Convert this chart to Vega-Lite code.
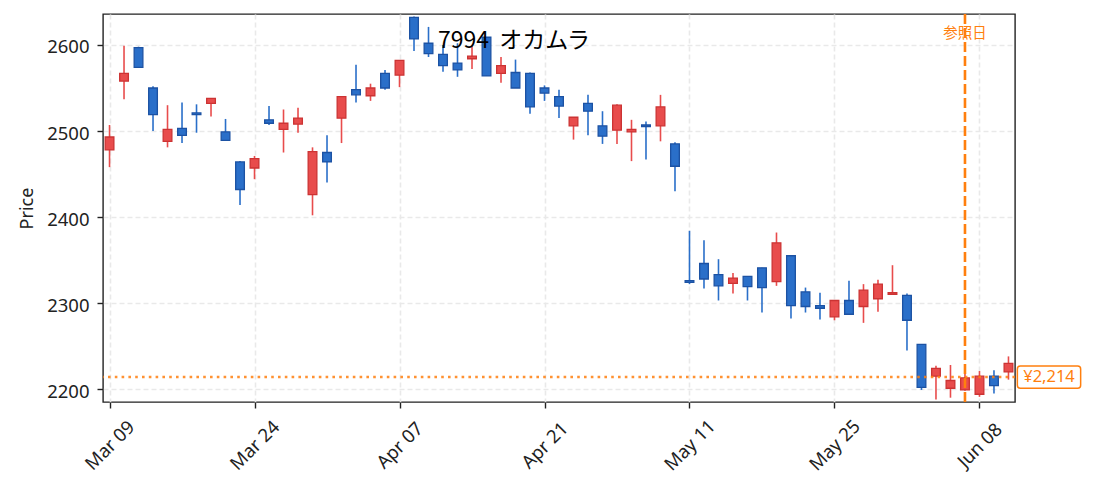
{
  "$schema": "https://vega.github.io/schema/vega-lite/v6.json",
  "width": 912,
  "height": 388,
  "autosize": {"type": "none"},
  "padding": {"left": 103, "top": 14, "right": 78, "bottom": 89},
  "background": "white",
  "title": {
    "text": "7994\u00a0 オカムラ",
    "font": "Noto Sans CJK JP",
    "fontSize": 23,
    "fontWeight": "normal",
    "color": "#000000",
    "anchor": "middle",
    "frame": "group",
    "baseline": "alphabetic",
    "offset": -33,
    "dx": -45,
    "dy": 25
  },
  "config": {
    "view": {"stroke": "#222222", "strokeWidth": 1.4},
    "axis": {
      "labelFont": "Noto Sans",
      "labelFontSize": 18.5,
      "labelColor": "#222222",
      "tickColor": "#222222",
      "tickWidth": 1.4,
      "tickSize": 6,
      "domain": false,
      "grid": true,
      "gridColor": "#e9e9e9",
      "gridDash": [5, 3],
      "gridWidth": 1.6,
      "titleFont": "Noto Sans",
      "titleFontSize": 18,
      "titleFontWeight": "normal",
      "titleColor": "#222222"
    }
  },
  "datasets": {
    "candles": [
      {"date": "2020-03-09", "open": 2478, "high": 2507, "low": 2458, "close": 2493},
      {"date": "2020-03-10", "open": 2558, "high": 2599, "low": 2537, "close": 2567},
      {"date": "2020-03-11", "open": 2597, "high": 2598, "low": 2574, "close": 2574},
      {"date": "2020-03-12", "open": 2550, "high": 2552, "low": 2500, "close": 2519},
      {"date": "2020-03-13", "open": 2488, "high": 2530, "low": 2481, "close": 2502},
      {"date": "2020-03-16", "open": 2503, "high": 2533, "low": 2486, "close": 2495},
      {"date": "2020-03-17", "open": 2521, "high": 2531, "low": 2498, "close": 2519},
      {"date": "2020-03-18", "open": 2532, "high": 2538, "low": 2517, "close": 2538},
      {"date": "2020-03-19", "open": 2499, "high": 2514, "low": 2489, "close": 2489},
      {"date": "2020-03-23", "open": 2464, "high": 2465, "low": 2414, "close": 2432},
      {"date": "2020-03-24", "open": 2457, "high": 2471, "low": 2444, "close": 2468},
      {"date": "2020-03-25", "open": 2513, "high": 2529, "low": 2507, "close": 2509},
      {"date": "2020-03-26", "open": 2502, "high": 2525, "low": 2475, "close": 2509},
      {"date": "2020-03-27", "open": 2508, "high": 2527, "low": 2498, "close": 2515},
      {"date": "2020-03-30", "open": 2426, "high": 2481, "low": 2402, "close": 2476},
      {"date": "2020-03-31", "open": 2475, "high": 2495, "low": 2440, "close": 2464},
      {"date": "2020-04-01", "open": 2515, "high": 2540, "low": 2486, "close": 2540},
      {"date": "2020-04-02", "open": 2548, "high": 2577, "low": 2533, "close": 2542},
      {"date": "2020-04-03", "open": 2541, "high": 2555, "low": 2535, "close": 2550},
      {"date": "2020-04-06", "open": 2567, "high": 2571, "low": 2548, "close": 2550},
      {"date": "2020-04-07", "open": 2565, "high": 2582, "low": 2551, "close": 2582},
      {"date": "2020-04-08", "open": 2632, "high": 2633, "low": 2593, "close": 2607},
      {"date": "2020-04-09", "open": 2602, "high": 2621, "low": 2586, "close": 2590},
      {"date": "2020-04-10", "open": 2589, "high": 2600, "low": 2569, "close": 2576},
      {"date": "2020-04-13", "open": 2579, "high": 2602, "low": 2563, "close": 2571},
      {"date": "2020-04-14", "open": 2584, "high": 2599, "low": 2572, "close": 2587},
      {"date": "2020-04-15", "open": 2609, "high": 2609, "low": 2564, "close": 2564},
      {"date": "2020-04-16", "open": 2567, "high": 2586, "low": 2556, "close": 2576},
      {"date": "2020-04-17", "open": 2568, "high": 2583, "low": 2550, "close": 2550},
      {"date": "2020-04-20", "open": 2567, "high": 2568, "low": 2520, "close": 2528},
      {"date": "2020-04-21", "open": 2550, "high": 2553, "low": 2535, "close": 2544},
      {"date": "2020-04-22", "open": 2540, "high": 2548, "low": 2515, "close": 2529},
      {"date": "2020-04-23", "open": 2506, "high": 2516, "low": 2490, "close": 2516},
      {"date": "2020-04-24", "open": 2532, "high": 2542, "low": 2495, "close": 2523},
      {"date": "2020-04-27", "open": 2506, "high": 2523, "low": 2485, "close": 2494},
      {"date": "2020-04-28", "open": 2501, "high": 2531, "low": 2485, "close": 2530},
      {"date": "2020-04-30", "open": 2499, "high": 2513, "low": 2465, "close": 2502},
      {"date": "2020-05-01", "open": 2507, "high": 2511, "low": 2467, "close": 2505},
      {"date": "2020-05-07", "open": 2506, "high": 2542, "low": 2488, "close": 2528},
      {"date": "2020-05-08", "open": 2485, "high": 2487, "low": 2430, "close": 2459},
      {"date": "2020-05-11", "open": 2326, "high": 2384, "low": 2322, "close": 2324},
      {"date": "2020-05-12", "open": 2346, "high": 2373, "low": 2317, "close": 2328},
      {"date": "2020-05-13", "open": 2333, "high": 2351, "low": 2303, "close": 2320},
      {"date": "2020-05-14", "open": 2323, "high": 2335, "low": 2311, "close": 2329},
      {"date": "2020-05-15", "open": 2331, "high": 2331, "low": 2303, "close": 2319},
      {"date": "2020-05-18", "open": 2341, "high": 2341, "low": 2289, "close": 2318},
      {"date": "2020-05-19", "open": 2325, "high": 2382, "low": 2320, "close": 2370},
      {"date": "2020-05-20", "open": 2355, "high": 2355, "low": 2282, "close": 2297},
      {"date": "2020-05-21", "open": 2313, "high": 2318, "low": 2289, "close": 2296},
      {"date": "2020-05-22", "open": 2297, "high": 2312, "low": 2281, "close": 2294},
      {"date": "2020-05-25", "open": 2284, "high": 2303, "low": 2280, "close": 2303},
      {"date": "2020-05-26", "open": 2303, "high": 2326, "low": 2287, "close": 2287},
      {"date": "2020-05-27", "open": 2296, "high": 2322, "low": 2277, "close": 2315},
      {"date": "2020-05-28", "open": 2305, "high": 2327, "low": 2290, "close": 2322},
      {"date": "2020-05-29", "open": 2310, "high": 2344, "low": 2310, "close": 2312},
      {"date": "2020-06-01", "open": 2309, "high": 2311, "low": 2245, "close": 2280},
      {"date": "2020-06-02", "open": 2252, "high": 2252, "low": 2199, "close": 2202},
      {"date": "2020-06-03", "open": 2215, "high": 2227, "low": 2188, "close": 2224},
      {"date": "2020-06-04", "open": 2201, "high": 2228, "low": 2190, "close": 2210},
      {"date": "2020-06-05", "open": 2199, "high": 2220, "low": 2198, "close": 2213},
      {"date": "2020-06-08", "open": 2194, "high": 2221, "low": 2191, "close": 2215},
      {"date": "2020-06-09", "open": 2215, "high": 2222, "low": 2195, "close": 2204},
      {"date": "2020-06-10", "open": 2220, "high": 2238, "low": 2211, "close": 2230}
    ],
    "ref": [{"date": "2020-06-05", "label": "参照日", "y": 2613}],
    "price": [{"price": 2214, "label": "¥2,214"}]
  },
  "layer": [
    {
      "data": {"name": "candles"},
      "mark": {"type": "rule", "strokeWidth": 1.6},
      "encoding": {
        "x": {
          "field": "date",
          "type": "ordinal",
          "scale": {"type": "point", "padding": 0.45},
          "axis": {
            "values": ["2020-03-09", "2020-03-24", "2020-04-07", "2020-04-21", "2020-05-11", "2020-05-25", "2020-06-08"],
            "labelExpr": "utcFormat(toDate(datum.value), '%b %d')",
            "labelAngle": -45,
            "labelAlign": "center",
            "labelBaseline": "middle",
            "labelPadding": 37,
            "title": null
          }
        },
        "y": {
          "field": "low",
          "type": "quantitative",
          "scale": {"domain": [2185, 2636], "nice": false, "zero": false},
          "axis": {
            "values": [2200, 2300, 2400, 2500, 2600],
            "format": "d",
            "labelPadding": 8,
            "labelOffset": 2,
            "titlePadding": 10
          },
          "title": "Price"
        },
        "y2": {"field": "high"},
        "color": {
          "condition": {"test": "datum.close >= datum.open", "value": "#e84c4c"},
          "value": "#2a6fc9"
        }
      }
    },
    {
      "data": {"name": "candles"},
      "mark": {"type": "bar", "size": 8.7, "strokeWidth": 1.3},
      "encoding": {
        "x": {"field": "date", "type": "ordinal"},
        "y": {"field": "open", "type": "quantitative"},
        "y2": {"field": "close"},
        "fill": {
          "condition": {"test": "datum.close >= datum.open", "value": "#e84c4c"},
          "value": "#2a6fc9"
        },
        "stroke": {
          "condition": {"test": "datum.close >= datum.open", "value": "#cc3333"},
          "value": "#1c52a3"
        }
      }
    },
    {
      "data": {"name": "price"},
      "mark": {"type": "rule", "color": "#ff7f0e", "strokeWidth": 2.6, "strokeDash": [2.6, 4.2], "opacity": 0.85},
      "encoding": {"y": {"field": "price", "type": "quantitative"}}
    },
    {
      "data": {"name": "ref"},
      "mark": {"type": "rule", "color": "#ff7f0e", "strokeWidth": 2.6, "strokeDash": [10, 4]},
      "encoding": {"x": {"field": "date", "type": "ordinal"}}
    },
    {
      "data": {"name": "ref"},
      "mark": {"type": "text", "color": "#ff7f0e", "font": "Noto Sans CJK JP", "fontSize": 14.5, "baseline": "middle"},
      "encoding": {
        "x": {"field": "date", "type": "ordinal"},
        "y": {"field": "y", "type": "quantitative"},
        "text": {"field": "label"}
      }
    },
    {
      "data": {"name": "price"},
      "mark": {
        "type": "point",
        "shape": "M-0.905,-0.352L0.905,-0.352Q1,-0.352 1,-0.257L1,0.257Q1,0.352 0.905,0.352L-0.905,0.352Q-1,0.352 -1,0.257L-1,-0.257Q-1,-0.352 -0.905,-0.352Z",
        "size": 4007,
        "filled": true,
        "fill": "white",
        "stroke": "#ff7f0e",
        "strokeWidth": 1.5,
        "opacity": 1,
        "xOffset": 34
      },
      "encoding": {
        "x": {"value": "width"},
        "y": {"field": "price", "type": "quantitative"}
      }
    },
    {
      "data": {"name": "price"},
      "mark": {"type": "text", "color": "#ff7f0e", "font": "Noto Sans", "fontSize": 16.5, "dx": 34, "align": "center", "baseline": "middle"},
      "encoding": {
        "x": {"value": "width"},
        "y": {"field": "price", "type": "quantitative"},
        "text": {"field": "label"}
      }
    }
  ]
}
